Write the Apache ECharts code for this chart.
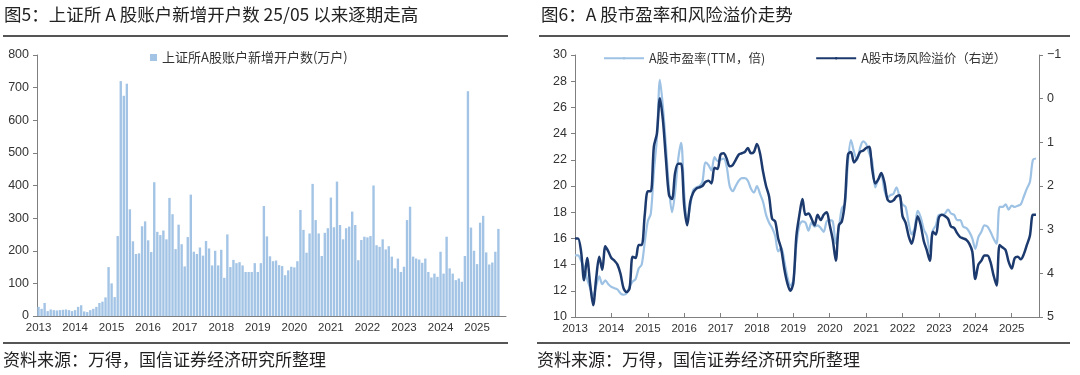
<!DOCTYPE html>
<html><head><meta charset="utf-8">
<script src="https://cdn.jsdelivr.net/npm/echarts@6/dist/echarts.min.js"></script>
<style>html,body{margin:0;padding:0;background:#fff}#c{width:1080px;height:375px}</style>
</head><body><div id="c"></div>
<script>
// ---------- data ----------
const startYear = 2013;
const monthCount = 154; // Jan 2013 .. Oct 2025 (axis extent)
const yearLabels = ['2013','2014','2015','2016','2017','2018','2019','2020','2021','2022','2023','2024','2025'];

// Left chart: SSE new A-share accounts per month (10k accounts), Jan 2013 - Aug 2025
const newAccounts = [
  28, 22, 40, 15, 20, 18, 17, 18, 19, 20, 18, 15,
  18, 28, 33, 14, 12, 18, 22, 28, 40, 44, 57, 150,
  100, 58, 245, 720, 675, 712, 327, 229, 190, 192, 275, 290,
  232, 196, 410, 258, 248, 262, 235, 362, 312, 205, 280, 220,
  152, 242, 372, 197, 190, 210, 185, 230, 207, 155, 200, 155,
  203, 117, 250, 150, 172, 162, 165, 155, 135, 135, 135, 162,
  135, 162, 337, 244, 183, 168, 170, 156, 153, 125, 140, 151,
  149, 168, 325, 264, 194, 253, 405, 294, 253, 184, 255, 269,
  363, 272, 412, 279, 235, 269, 274, 320, 279, 171, 233, 243,
  241, 245, 400, 217, 212, 235, 204, 214, 182, 146, 176, 135,
  151, 294, 335, 182, 176, 173, 163, 176, 135, 118, 130, 120,
  197, 130, 243, 146, 130, 110, 115, 105, 184, 689, 271, 200,
  159, 286, 307, 195, 158, 164, 197, 267
];

// Right chart: A-share PE (TTM) and equity risk premium (right axis, inverted)
const peTTM = [
  14.7, 14.7, 14.3, 13.8, 12.9, 12.2, 11.6, 12.4, 13.1, 12.5, 12.8, 12.5,
  12.3, 12.2, 12.1, 11.8, 11.7, 11.8, 12.3, 12.7, 12.9, 13.7, 14.0, 15.7,
  17.3, 17.9, 21.1, 23.6, 28.1, 26.0, 23.0, 19.8, 18.0, 19.5, 22.0, 23.3,
  19.5, 17.3, 18.5, 19.7, 19.9, 20.0, 20.3, 21.8, 21.6, 21.2, 22.2, 21.9,
  22.0, 22.1, 21.5, 20.0, 19.6, 20.0, 20.4, 20.6, 20.6, 20.4, 19.8, 19.5,
  20.0, 19.4, 18.8, 17.8, 17.2, 16.8, 16.2, 15.0, 15.3, 14.3, 13.1, 12.4,
  12.8, 15.5, 17.0, 17.3, 17.2, 16.6, 17.2, 16.9, 17.0, 16.8, 16.5, 17.3,
  17.4, 17.3, 15.6, 16.8, 18.3, 18.6, 21.8, 23.5, 22.6, 22.0, 22.9, 23.4,
  23.2, 22.5, 21.9, 19.9, 20.5, 20.8, 19.7, 19.1, 19.3, 19.4, 19.9, 19.2,
  18.6, 18.4, 17.2, 16.3, 16.8, 18.1, 17.6, 16.7, 16.2, 15.0, 16.6, 17.0,
  17.8, 17.8, 17.9, 18.2, 17.9, 17.8, 17.4, 17.4, 16.9, 16.8, 16.5, 16.0,
  15.2, 16.1, 16.5, 17.0, 16.9, 16.5, 16.0, 15.6, 18.4, 18.4, 18.6, 18.2,
  18.5, 18.4, 18.5, 18.6, 19.2, 19.8, 20.3, 22.0, 22.1
];
const riskPremium = [
  3.20, 3.20, 3.50, 4.16, 3.65, 4.25, 4.73, 4.10, 3.62, 3.92, 3.38, 3.50,
  3.65, 3.71, 3.80, 4.01, 4.34, 4.43, 4.34, 3.62, 3.65, 3.35, 3.35, 2.66,
  2.12, 2.12, 1.10, 0.80, -0.01, 0.50, 1.40, 2.21, 2.30, 1.70, 1.49, 1.49,
  2.45, 2.90, 2.36, 2.15, 2.06, 2.03, 2.00, 1.91, 1.88, 1.94, 1.58, 1.61,
  1.28, 1.25, 1.37, 1.55, 1.52, 1.40, 1.28, 1.25, 1.22, 1.13, 1.25, 1.22,
  1.04, 1.25, 1.67, 2.00, 2.24, 2.75, 2.81, 3.20, 3.44, 3.89, 4.22, 4.40,
  4.22, 3.14, 2.66, 2.30, 2.66, 2.63, 2.75, 2.90, 2.66, 2.78, 2.66, 2.60,
  2.90, 3.23, 3.71, 2.90, 2.81, 2.36, 1.28, 1.22, 1.46, 1.37, 1.22, 1.19,
  1.13, 1.10, 1.61, 1.94, 1.85, 1.70, 1.91, 2.30, 2.36, 2.33, 2.24, 2.21,
  2.69, 2.84, 3.14, 3.32, 3.05, 2.69, 2.90, 3.26, 3.47, 3.71, 3.05, 3.11,
  2.72, 2.66, 2.69, 2.75, 2.93, 2.96, 3.08, 3.17, 3.20, 3.23, 3.32, 3.50,
  4.13, 3.80, 3.71, 3.59, 3.59, 3.74, 4.04, 4.28, 3.35, 3.41, 3.47, 3.74,
  3.89, 3.65, 3.62, 3.68, 3.56, 3.35, 3.14, 2.66, 2.66
];

const nameBar = '上证所A股账户新增开户数(万户)';
const namePE = 'A股市盈率(TTM，倍)';
const nameERP = 'A股市场风险溢价（右逆）';

const months = [];
for (let i = 0; i < monthCount; i++) months.push((startYear + Math.floor(i / 12)) + '-' + String(i % 12 + 1).padStart(2, '0'));

// ---------- styles ----------
const txt = '#333333';
const axisGray = '#7f7f7f';
const latin = "'Liberation Sans', Arial, sans-serif";
const cjk = "'Noto Sans CJK SC', sans-serif";
const yearTick = (i) => i % 12 === 0;
const yearFmt = (v, i) => yearLabels[Math.floor(i / 12)] || '';

const chart = echarts.init(document.getElementById('c'), null, { renderer: 'canvas' });
chart.setOption({
  animation: false,
  backgroundColor: '#fff',
  textStyle: { fontFamily: latin },
  grid: [
    { left: 37, top: 55, width: 469, height: 261 },
    { left: 575, top: 55, width: 464, height: 262 }
  ],
  legend: [
    { data: [nameBar], left: 145, top: 46, icon: 'rect', itemWidth: 7, itemHeight: 7, itemGap: 4,
      textStyle: { fontFamily: cjk, fontSize: 13, color: txt } },
    { data: [namePE, nameERP], left: 598, top: 47, itemWidth: 40, itemHeight: 3, itemGap: 50,
      textStyle: { fontFamily: cjk, fontSize: 12.5, color: txt } }
  ],
  xAxis: [
    { type: 'category', gridIndex: 0, data: months, boundaryGap: true,
      axisLine: { onZero: false, lineStyle: { color: axisGray, width: 1 } },
      axisTick: { interval: yearTick, inside: true, length: 4, lineStyle: { color: axisGray } },
      axisLabel: { interval: yearTick, formatter: yearFmt, color: txt, fontSize: 11.5, margin: 6 } },
    { type: 'category', gridIndex: 1, data: months, boundaryGap: false,
      axisLine: { onZero: false, lineStyle: { color: axisGray, width: 1 } },
      axisTick: { interval: yearTick, inside: true, length: 4, lineStyle: { color: axisGray } },
      axisLabel: { interval: yearTick, formatter: yearFmt, color: txt, fontSize: 11.5, margin: 6 } }
  ],
  yAxis: [
    { type: 'value', gridIndex: 0, min: 0, max: 800, interval: 100,
      axisLine: { show: true, lineStyle: { color: axisGray } },
      axisTick: { show: true, length: 4, lineStyle: { color: axisGray } },
      splitLine: { show: false },
      axisLabel: { color: txt, fontSize: 12.5, margin: 8 } },
    { type: 'value', gridIndex: 1, position: 'left', min: 10, max: 30, interval: 2,
      axisLine: { show: true, lineStyle: { color: axisGray } },
      axisTick: { show: true, length: 4, lineStyle: { color: axisGray } },
      splitLine: { show: false },
      axisLabel: { color: txt, fontSize: 12.5, margin: 8 } },
    { type: 'value', gridIndex: 1, position: 'right', inverse: true, min: -1, max: 5, interval: 1,
      axisLine: { show: true, lineStyle: { color: axisGray } },
      axisTick: { show: true, length: 4, lineStyle: { color: axisGray } },
      splitLine: { show: false },
      axisLabel: { color: txt, fontSize: 12.5, margin: 8, formatter: (v) => v < 0 ? '−' + Math.abs(v) : String(v) } }
  ],
  series: [
    { name: nameBar, type: 'bar', xAxisIndex: 0, yAxisIndex: 0, data: newAccounts,
      barCategoryGap: '22%', itemStyle: { color: '#a3c4e5' } },
    { name: namePE, type: 'line', xAxisIndex: 1, yAxisIndex: 1, data: peTTM,
      symbol: 'none', smooth: 0.3, lineStyle: { color: '#9ec2e4', width: 2.2 }, itemStyle: { color: '#9ec2e4' } },
    { name: nameERP, type: 'line', xAxisIndex: 1, yAxisIndex: 2, data: riskPremium,
      symbol: 'none', smooth: 0.3, lineStyle: { color: '#1c3a6e', width: 2.5 }, itemStyle: { color: '#1c3a6e' } }
  ],
  graphic: [
    { type: 'text', left: 4, top: 6, style: { text: '图5：上证所 A 股账户新增开户数 25/05 以来逐期走高', font: "17.5px 'Noto Sans CJK SC'", fill: '#222' } },
    { type: 'text', left: 541, top: 6, style: { text: '图6：A 股市盈率和风险溢价走势', font: "17.5px 'Noto Sans CJK SC'", fill: '#222' } },
    { type: 'line', shape: { x1: 3, y1: 36, x2: 508, y2: 36 }, style: { stroke: '#555', lineWidth: 2 } },
    { type: 'line', shape: { x1: 539, y1: 36, x2: 1070, y2: 36 }, style: { stroke: '#555', lineWidth: 2 } },
    { type: 'line', shape: { x1: 3, y1: 343, x2: 508, y2: 343 }, style: { stroke: '#555', lineWidth: 2 } },
    { type: 'line', shape: { x1: 537, y1: 343, x2: 1070, y2: 343 }, style: { stroke: '#555', lineWidth: 2 } },
    { type: 'text', left: 3, top: 351, style: { text: '资料来源：万得，国信证券经济研究所整理', font: "17px 'Noto Sans CJK SC'", fill: '#222' } },
    { type: 'text', left: 537, top: 351, style: { text: '资料来源：万得，国信证券经济研究所整理', font: "17px 'Noto Sans CJK SC'", fill: '#222' } }
  ]
});
</script></body></html>
